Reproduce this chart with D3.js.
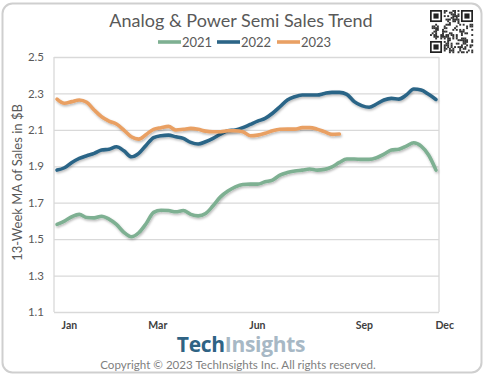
<!DOCTYPE html>
<html>
<head>
<meta charset="utf-8">
<script src="https://cdn.jsdelivr.net/npm/d3@7"></script>
<style>
  html, body { margin: 0; padding: 0; background: #fff; }
  svg { display: block; }
</style>
</head>
<body>
<svg id="chart" width="485" height="378"></svg>
<script>
// ---- data ----
const seriesNames = ["2021", "2022", "2023"];
const sales2021 = [1.581,1.599,1.623,1.636,1.619,1.617,1.626,1.610,1.581,1.537,1.513,1.535,1.586,1.647,1.659,1.657,1.650,1.657,
  1.636,1.628,1.641,1.683,1.732,1.764,1.787,1.800,1.802,1.802,1.815,1.824,1.852,1.866,1.874,1.879,1.885,
  1.879,1.883,1.897,1.921,1.940,1.940,1.938,1.938,1.947,1.967,1.989,1.994,2.011,2.029,2.011,1.962,1.879];
const sales2022 = [1.879,1.892,1.921,1.943,1.958,1.971,1.989,1.994,2.007,1.985,1.952,1.971,2.016,2.057,2.068,2.071,2.062,2.053,
  2.031,2.022,2.035,2.053,2.077,2.095,2.099,2.112,2.130,2.148,2.163,2.191,2.227,2.264,2.282,2.291,2.291,
  2.291,2.300,2.306,2.306,2.295,2.255,2.233,2.224,2.242,2.264,2.273,2.269,2.291,2.324,2.319,2.295,2.267];
const sales2023 = [2.269,2.246,2.255,2.264,2.251,2.209,2.172,2.148,2.132,2.099,2.062,2.049,2.075,2.103,2.112,2.119,2.099,2.103,
  2.108,2.103,2.093,2.090,2.090,2.095,2.095,2.090,2.068,2.071,2.081,2.095,2.103,2.104,2.104,2.112,2.112,
  2.104,2.090,2.075,2.077];
const yTicks = [1.1, 1.3, 1.5, 1.7, 1.9, 2.1, 2.3, 2.5];
const monthLabels = ["Jan", "Mar", "Jun", "Sep", "Dec"];
const monthWeeks = [1.6, 13.5, 26.9, 41.3, 52.1];
const colors = ["#7eb092", "#2c6587", "#e9a064"];

// ---- layout ----
const svg = d3.select("#chart");
const font = "Lato, 'Open Sans', sans-serif";
const plot = { left: 54, right: 439, top: 57, bottom: 312 };

// outer frame
svg.append("rect").attr("x", 2.5).attr("y", 3.5).attr("width", 479).attr("height", 369)
  .attr("rx", 10).attr("fill", "#fff").attr("stroke", "#cfcfcf").attr("stroke-width", 2);

const defs = svg.append("defs");
const f = defs.append("filter").attr("id", "shadow").attr("filterUnits", "userSpaceOnUse")
  .attr("x", 0).attr("y", 0).attr("width", 485).attr("height", 378);
f.append("feDropShadow").attr("dx", 0.8).attr("dy", 1.5).attr("stdDeviation", 0.9)
  .attr("flood-color", "#000").attr("flood-opacity", 0.28);

const x = d3.scaleLinear().domain([0, 51]).range([57, 436]);
const y = d3.scaleLinear().domain([1.1, 2.5]).range([plot.bottom, plot.top]);

// gridlines + y axis
const yAxis = svg.append("g").attr("transform", `translate(${plot.left},0)`)
  .call(d3.axisLeft(y).tickValues(yTicks).tickFormat(d3.format(".1f"))
    .tickSize(-(plot.right - plot.left)).tickPadding(10));
yAxis.select(".domain").remove();
yAxis.selectAll(".tick line").attr("stroke", "#d9d9d9").attr("stroke-width", 1.3);
yAxis.selectAll(".tick text").attr("font-family", font).attr("font-size", 11.5).attr("fill", "#595959");

// plot border (left and right)
svg.append("line").attr("x1", plot.left).attr("x2", plot.left).attr("y1", plot.top).attr("y2", plot.bottom)
  .attr("stroke", "#d9d9d9").attr("stroke-width", 1.3);
svg.append("line").attr("x1", plot.right).attr("x2", plot.right).attr("y1", plot.top).attr("y2", plot.bottom)
  .attr("stroke", "#d9d9d9").attr("stroke-width", 1.3);

// x axis labels
const xAxis = svg.append("g").attr("transform", `translate(0,${plot.bottom})`)
  .call(d3.axisBottom(x).tickValues(monthWeeks)
    .tickFormat((d, i) => monthLabels[i]).tickSize(0).tickPadding(10));
xAxis.select(".domain").remove();
xAxis.selectAll(".tick text").attr("font-family", font).attr("font-weight", 700)
  .attr("font-size", 10.5).attr("fill", "#404040");

// lines
const line = d3.line().x((d, i) => x(i)).y(d => y(d)).curve(d3.curveMonotoneX);
[sales2021, sales2022, sales2023].forEach((s, k) => {
  svg.append("path").datum(s).attr("d", line).attr("fill", "none")
    .attr("stroke", colors[k]).attr("stroke-width", 3.6)
    .attr("stroke-linejoin", "round").attr("stroke-linecap", "round")
    .attr("filter", "url(#shadow)");
});

// title
svg.append("text").attr("x", 241).attr("y", 27).attr("text-anchor", "middle")
  .attr("font-family", font).attr("font-size", 18).attr("fill", "#595959")
  .text("Analog & Power Semi Sales Trend");

// legend
const legendX = [158, 217, 277];
seriesNames.forEach((n, k) => {
  const g = svg.append("g").attr("transform", `translate(${legendX[k]},42)`);
  g.append("line").attr("x1", 0).attr("x2", 23).attr("y1", 0).attr("y2", 0)
    .attr("stroke", colors[k]).attr("stroke-width", 3.6);
  g.append("text").attr("x", 24).attr("y", 4.5).attr("font-family", font).attr("font-size", 13)
    .attr("fill", "#595959").text(n);
});

// y axis title
svg.append("text").attr("transform", `translate(22,${(plot.top + plot.bottom) / 2 - 2}) rotate(-90)`)
  .attr("text-anchor", "middle").attr("font-family", font).attr("font-size", 13).attr("fill", "#595959")
  .text("13-Week MA of Sales in $B");

// logo
const logo = svg.append("text").attr("x", 241).attr("y", 352).attr("text-anchor", "middle")
  .attr("font-family", "'Open Sans', sans-serif").attr("font-weight", 700).attr("font-size", 21)
  .attr("letter-spacing", -0.3);
logo.append("tspan").attr("fill", "#2f6384").text("Tech");
logo.append("tspan").attr("fill", "#a7b8c5").text("Insights");

svg.append("text").attr("x", 238).attr("y", 369).attr("text-anchor", "middle")
  .attr("font-family", font).attr("font-size", 11.6).attr("fill", "#7f7f7f")
  .text("Copyright \u00A9 2023 TechInsights Inc.  All rights reserved.");

// QR-style badge (decorative)
const qr = svg.append("g").attr("transform", "translate(430,10)");
const n = 25, m = 43 / n;
function finder(cx, cy) {
  qr.append("rect").attr("x", cx * m).attr("y", cy * m).attr("width", 7 * m).attr("height", 7 * m).attr("fill", "#222");
  qr.append("rect").attr("x", (cx + 1) * m).attr("y", (cy + 1) * m).attr("width", 5 * m).attr("height", 5 * m).attr("fill", "#fff");
  qr.append("rect").attr("x", (cx + 2) * m).attr("y", (cy + 2) * m).attr("width", 3 * m).attr("height", 3 * m).attr("fill", "#222");
}
for (let r = 0; r < n; r++) {
  for (let c = 0; c < n; c++) {
    const inF = (r < 8 && c < 8) || (r < 8 && c >= n - 8) || (r >= n - 8 && c < 8);
    if (inF) continue;
    const h = ((r * 131 + c * 71 + r * c * 29) ^ (r * 17 + c * 7)) % 7;
    if (h < 3) qr.append("rect").attr("x", c * m).attr("y", r * m).attr("width", m + 0.2).attr("height", m + 0.2).attr("fill", "#333");
  }
}
finder(0, 0); finder(n - 7, 0); finder(0, n - 7);
</script>
</body>
</html>
